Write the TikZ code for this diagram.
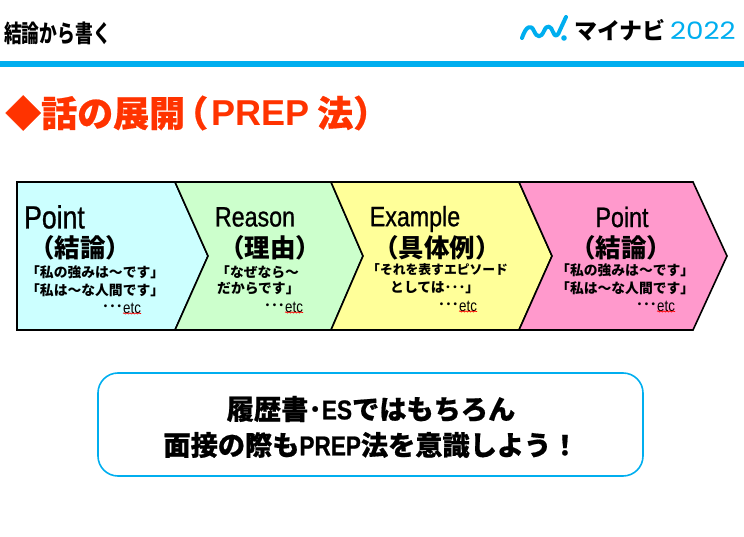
\documentclass[tikz,border=0pt]{standalone}
\usepackage{fontspec}
\setmainfont{Liberation Sans}
\newfontfamily\jpfont{Noto Sans CJK JP}
\newfontfamily\jpheavy{Noto Sans CJK JP}[BoldFeatures={FakeBold=0.6}]
\newfontfamily\jptall{Noto Sans CJK JP}[FakeStretch=0.74]
\newfontfamily\narrowfont{Liberation Sans}[FakeStretch=0.83,FakeBold=0.8]
\newfontfamily\etcfont{Liberation Sans}[FakeStretch=0.83]
\newfontfamily\logofont{Poppins}[FakeStretch=1.16]
\usetikzlibrary{positioning,decorations.pathmorphing}
\definecolor{bandBlue}{HTML}{00AEEF}
\definecolor{titleRed}{HTML}{FF3300}
\definecolor{pointBlue}{HTML}{CCFFFF}
\definecolor{reasonGreen}{HTML}{CCFFCC}
\definecolor{exampleYellow}{HTML}{FFFF99}
\definecolor{pointPink}{HTML}{FF99CC}
\tikzset{
  stepShape/.style={
    draw=black,
    line width=1.6pt,
    line join=miter
  },
  headText/.style={
    inner sep=0pt,
    font=\narrowfont\fontsize{28}{28}\selectfont
  },
  subText/.style={
    inner sep=0pt,
    font=\jpfont\bfseries\fontsize{25.5}{26}\selectfont
  },
  smallText/.style={
    inner sep=0pt,
    anchor=west,
    font=\jpfont\bfseries\fontsize{13.8}{14}\selectfont
  },
  etcText/.style={
    inner sep=0pt,
    anchor=west,
    font=\etcfont\fontsize{16}{16}\selectfont
  },
  wavyLine/.style={
    draw=red,
    line width=0.7pt,
    yshift=-1.5pt,
    decorate,
    decoration={snake,amplitude=0.6pt,segment length=3pt}
  },
  noteText/.style={
    inner sep=0pt,
    font=\jpheavy\bfseries\fontsize{27.2}{28}\selectfont
  },
  titleText/.style={
    inner sep=0pt,
    anchor=west,
    text=titleRed,
    font=\jpheavy\bfseries\fontsize{36}{36}\selectfont
  }
}

\begin{document}
\begin{tikzpicture}[x=1pt,y=-1pt]
        \useasboundingbox (0,0) rectangle (744,537);

        % header
        \node[inner sep=0pt, anchor=west, font=\jptall\bfseries\fontsize{24}{24}\selectfont] (pageTitle) at (4,33) {結論から書く};
        \fill[bandBlue] (0,61) rectangle (744,67);
        \draw[bandBlue, line width=4pt, line cap=round, line join=round] (522,38) .. controls (526,26) and (531,24) .. (534,31) .. controls (537,38) and (541,38) .. (544,31) .. controls (547,24) and (551,26) .. (553,32) .. controls (555,38) and (558,36) .. (560,30) -- (566,17);
        \fill[bandBlue] (564,38) circle (2.8);
        \node[inner sep=0pt, anchor=west, font=\jpfont\bfseries\fontsize{23}{23}\selectfont] (logoName) at (574,30) {マイナビ};
        \node[inner sep=0pt, anchor=west, text=bandBlue, font=\logofont\fontsize{24}{24}\selectfont] (logoYear) at (670,31) {2022};

        % title
        \node[titleText] (mainTitle) at (5,113) {◆話の展開};
        \node[titleText] (titleOpen) at (172,113) {（};
        \node[titleText, font=\bfseries\fontsize{36}{36}\selectfont] (titlePrep) at (211,113) {PREP};
        \node[titleText] (titleLaw) at (317,113) {法）};

        % steps
        \draw[stepShape, fill=pointBlue] (17,182) -- (175,182) -- (208,256) -- (175,330) -- (17,330) -- cycle;
        \draw[stepShape, fill=reasonGreen] (175,182) -- (331,182) -- (363,256) -- (331,330) -- (175,330) -- (208,256) -- cycle;
        \draw[stepShape, fill=exampleYellow] (331,182) -- (519,182) -- (552,256) -- (519,330) -- (331,330) -- (363,256) -- cycle;
        \draw[stepShape, fill=pointPink] (519,182) -- (693,182) -- (727,256) -- (693,330) -- (519,330) -- (552,256) -- cycle;

        % first point
        \node[headText, anchor=west, font=\narrowfont\fontsize{32}{32}\selectfont] (pointA) at (24,217) {Point};
        \node[subText] (pointSubA) at (80,248) {（結論）};
        \node[smallText] (pointLineA) at (26,272) {「私の強みは～です」};
        \node[smallText] (pointLineB) at (26,290) {「私は～な人間です」};
        \node[etcText] (etcA) at (123,308) {etc};
        \node[smallText, anchor=east] (dotsA) at (etcA.west) {･･･};
        \draw[wavyLine] (etcA.south west) -- (etcA.south east);

        % reason
        \node[headText] (reason) at (255,217) {Reason};
        \node[subText] (reasonSub) at (270,248) {（理由）};
        \node[smallText] (reasonLineA) at (216,272) {「なぜなら～};
        \node[smallText] (reasonLineB) at (217,289) {だからです」};
        \node[etcText] (etcB) at (285,307) {etc};
        \node[smallText, anchor=east] (dotsB) at (etcB.west) {･･･};
        \draw[wavyLine] (etcB.south west) -- (etcB.south east);

        % example
        \node[headText] (example) at (415,219) {Example};
        \node[subText] (exampleSub) at (437,248) {（具体例）};
        \node[smallText, font=\jpfont\bfseries\fontsize{12.8}{13}\selectfont] (exampleLineA) at (367,270) {「それを表すエピソード};
        \node[smallText] (exampleLineB) at (390,288) {としては･･･」};
        \node[etcText] (etcC) at (459,306) {etc};
        \node[smallText, anchor=east] (dotsC) at (etcC.west) {･･･};
        \draw[wavyLine] (etcC.south west) -- (etcC.south east);

        % second point
        \node[headText] (pointB) at (622,217) {Point};
        \node[subText] (pointSubB) at (621,248) {（結論）};
        \node[smallText] (pointLineC) at (556,270) {「私の強みは～です」};
        \node[smallText] (pointLineD) at (556,288) {「私は～な人間です」};
        \node[etcText] (etcD) at (657,306) {etc};
        \node[smallText, anchor=east] (dotsD) at (etcD.west) {･･･};
        \draw[wavyLine] (etcD.south west) -- (etcD.south east);

        % note
        \draw[draw=bandBlue, line width=1.6pt, rounded corners=20pt] (98,373) rectangle (643,476);
        \node[noteText] (noteA) at (371,409) {履歴書･{\narrowfont\bfseries ES}ではもちろん};
        \node[noteText] (noteB) at (371,445) {面接の際も{\narrowfont\bfseries PREP}法を意識しよう！};
    \end{tikzpicture}
\end{document}
